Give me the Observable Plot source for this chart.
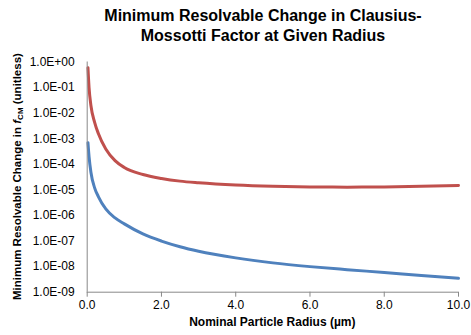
<!DOCTYPE html>
<html>
<head>
<meta charset="utf-8">
<script src="https://cdn.jsdelivr.net/npm/d3@7"></script>
<script src="https://cdn.jsdelivr.net/npm/@observablehq/plot@0.6"></script>
<style>
  body { margin: 0; background: #fff; font-family: "Liberation Sans", Arial, sans-serif; }
  #wrap { width: 471px; height: 335px; position: relative; overflow: hidden; }
  #title { height: 48px; box-sizing: border-box; padding-top: 6px; padding-left: 55px; text-align: center;
           font-weight: bold; font-size: 16px; line-height: 20px; color: #000; }
  svg { overflow: visible; }
</style>
</head>
<body>
<div id="wrap">
  <div id="title">Minimum Resolvable Change in Clausius-<br>Mossotti Factor at Given Radius</div>
  <div id="chart"></div>
</div>
<script>
const radius = [0.02, 0.05, 0.1, 0.2, 0.3, 0.5, 0.75, 1.0, 1.5, 2.0, 2.5, 3.0, 4.0, 5.0, 6.0, 7.0, 8.0, 9.0, 10.0];
const redSeries = [6e-1, 1e-1, 2e-2, 4.4e-3, 1.6e-3, 4e-4, 1.4e-4, 7.5e-5, 4e-5, 2.8e-5, 2.2e-5, 1.9e-5, 1.55e-5, 1.38e-5, 1.3e-5, 1.28e-5, 1.3e-5, 1.38e-5, 1.5e-5];
const blueSeries = [7e-4, 2e-4, 4.9e-5, 1.2e-5, 5.5e-6, 1.8e-6, 8e-7, 4.7e-7, 1.9e-7, 1e-7, 6e-8, 4e-8, 2.2e-8, 1.4e-8, 1e-8, 7.6e-9, 5.9e-9, 4.5e-9, 3.5e-9];
const yTicks = [1e0, 1e-1, 1e-2, 1e-3, 1e-4, 1e-5, 1e-6, 1e-7, 1e-8, 1e-9];
const xTicks = [0, 2, 4, 6, 8, 10];
const xLabel = "Nominal Particle Radius (µm)";

const red = radius.map((r, i) => ({x: r, y: redSeries[i]}));
const blue = radius.map((r, i) => ({x: r, y: blueSeries[i]}));

const fmtY = d => {
  const e = Math.round(Math.log10(d));
  return "1.0E" + (e >= 0 ? "+" : "-") + String(Math.abs(e)).padStart(2, "0");
};

const W = 471, H = 287;
const mL = 86.7, mR = 13, mT = 13.5, mB = 43.3;

const plot = Plot.plot({
  width: W, height: H,
  marginLeft: mL, marginRight: mR, marginTop: mT, marginBottom: mB,
  style: {fontFamily: "'Liberation Sans', Arial, sans-serif", fontSize: "12px", color: "#000", background: "#fff"},
  x: {domain: [0, 10], ticks: xTicks, tickFormat: d => d.toFixed(1), tickSize: 5, tickPadding: 3, label: null},
  y: {type: "log", domain: [1e-9, 1], ticks: yTicks, tickFormat: fmtY, tickSize: 0, tickPadding: 12.5, label: null},
  marks: [
    Plot.line(red, {x: "x", y: "y", stroke: "#C0504D", strokeWidth: 3, curve: "monotone-x"}),
    Plot.line(blue, {x: "x", y: "y", stroke: "#4F81BD", strokeWidth: 3, curve: "monotone-x"}),
    Plot.ruleX([0], {stroke: "#888", strokeWidth: 1}),
    Plot.ruleY([1e-9], {stroke: "#888", strokeWidth: 1})
  ]
});

document.getElementById("chart").appendChild(plot);
const svg = d3.select(plot);
svg.selectAll("[aria-label='x-axis tick'] path").attr("stroke", "#888");

// x axis title
svg.append("text")
  .attr("x", (mL + W - mR) / 2)
  .attr("y", 275)
  .attr("text-anchor", "middle")
  .attr("dominant-baseline", "middle")
  .attr("font-weight", "bold")
  .attr("font-size", 12)
  .text(xLabel);

// y axis title with italic f and subscript CM
const yt = svg.append("text")
  .attr("transform", `translate(18,${(mT + H - mB) / 2}) rotate(-90)`)
  .attr("text-anchor", "middle")
  .attr("dominant-baseline", "middle")
  .attr("font-weight", "bold")
  .attr("font-size", 11.5);
yt.append("tspan").text("Minimum Resolvable Change in ");
yt.append("tspan").attr("font-style", "italic").text("f");
yt.append("tspan").attr("font-size", 8).attr("dy", 3).text("CM");
yt.append("tspan").attr("dy", -3).text(" (unitless)");
</script>
</body>
</html>
